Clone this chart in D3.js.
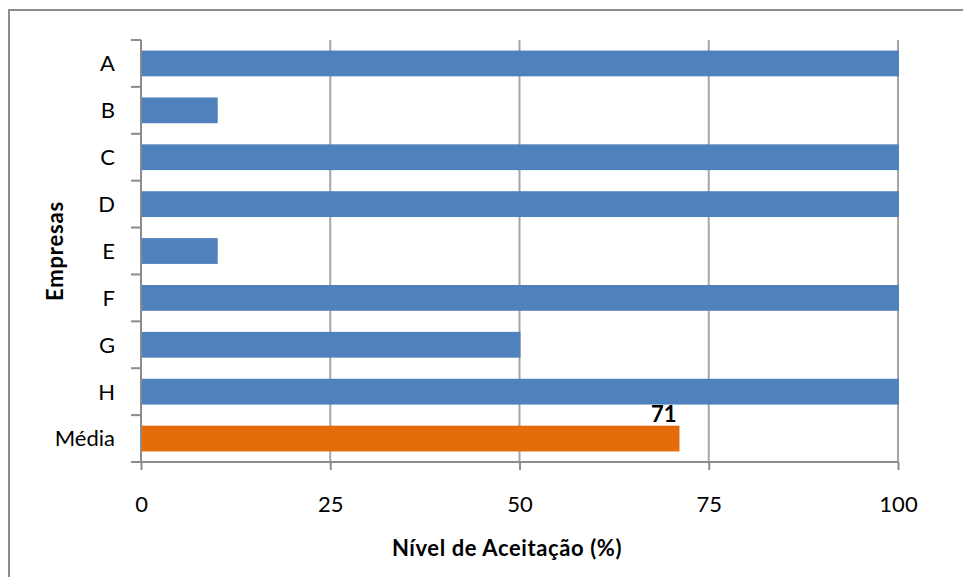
<!DOCTYPE html>
<html>
<head>
<meta charset="utf-8">
<script src="https://cdn.jsdelivr.net/npm/d3@7"></script>
<style>
  body { margin: 0; background: #fff; }
  svg { display: block; font-family: Lato, "Open Sans", sans-serif; }
  .grid line { stroke: #a6a6a6; stroke-width: 2; }
  .axis path, .axis line { stroke: #8c8c8c; stroke-width: 2; }
</style>
</head>
<body>
<script>
// data
const empresas = ["A", "B", "C", "D", "E", "F", "G", "H", "Média"]
const aceitacao = [100, 10, 100, 100, 10, 100, 50, 100, 71]
const xTicks = [0, 25, 50, 75, 100]
const labelIdx = 8  // only the average gets a value label

const W = 963, H = 577
const plotL = 141, plotR = 898, plotT = 40, plotB = 462

const svg = d3.select("body").append("svg")
  .attr("width", W)
  .attr("height", H)

// outer chart border
svg.append("rect")
  .attr("x", 9).attr("y", 10)
  .attr("width", W + 20).attr("height", H + 20)
  .attr("fill", "none")
  .attr("stroke", "#8c8c8c")
  .attr("stroke-width", 2)

const x = d3.scaleLinear().domain([0, 100]).range([plotL, plotR])
const y = d3.scaleBand().domain(empresas).range([plotT, plotB])
  .paddingInner(0.45).paddingOuter(0.225)

// vertical gridlines
svg.append("g").attr("class", "grid")
  .selectAll("line")
  .data(xTicks.filter(t => t > 0))
  .enter().append("line")
  .attr("x1", d => x(d)).attr("x2", d => x(d))
  .attr("y1", plotT).attr("y2", plotB)

// bars
svg.append("g")
  .selectAll("rect")
  .data(empresas)
  .enter().append("rect")
  .attr("x", x(0))
  .attr("y", d => y(d))
  .attr("width", (d, i) => x(aceitacao[i]) - x(0) + 1)
  .attr("height", y.bandwidth())
  .attr("fill", (d, i) => i === labelIdx ? "#e46c0a" : "#4f81bd")

// x axis
const xAxis = d3.axisBottom(x)
  .tickValues(xTicks)
  .tickSize(8)
  .tickPadding(26)

const gx = svg.append("g")
  .attr("class", "axis")
  .attr("transform", `translate(0,${plotB})`)
  .call(xAxis)
gx.select(".domain").attr("d", `M${plotL},0H${plotR}`)
gx.selectAll("text")
  .attr("font-family", "Lato, sans-serif")
  .attr("font-size", 22)
  .attr("fill", "#000")

// y axis (ticks on category boundaries)
const step = y.step()
const gy = svg.append("g").attr("class", "axis")
gy.append("line")
  .attr("x1", plotL).attr("x2", plotL)
  .attr("y1", plotT).attr("y2", plotB)
gy.selectAll(".tk")
  .data(d3.range(empresas.length + 1))
  .enter().append("line")
  .attr("class", "tk")
  .attr("x1", plotL - 10).attr("x2", plotL)
  .attr("y1", i => plotT + i * step).attr("y2", i => plotT + i * step)

svg.append("g")
  .selectAll("text")
  .data(empresas)
  .enter().append("text")
  .attr("x", 115)
  .attr("y", d => y(d) + y.bandwidth() / 2)
  .attr("dy", "0.36em")
  .attr("text-anchor", "end")
  .attr("font-size", 22)
  .text(d => d)

// value label on the average bar
svg.append("text")
  .attr("x", x(aceitacao[labelIdx]) - 2)
  .attr("y", y(empresas[labelIdx]) - 4)
  .attr("text-anchor", "end")
  .attr("font-size", 22)
  .attr("font-weight", "bold")
  .text(aceitacao[labelIdx])

// axis titles
svg.append("text")
  .attr("x", 507)
  .attr("y", 556)
  .attr("text-anchor", "middle")
  .attr("font-size", 22)
  .attr("letter-spacing", 0.6)
  .attr("font-weight", "bold")
  .text("Nível de Aceitação (%)")

svg.append("text")
  .attr("transform", `translate(63,251) rotate(-90)`)
  .attr("text-anchor", "middle")
  .attr("font-size", 22)
  .attr("letter-spacing", 0.8)
  .attr("font-weight", "bold")
  .text("Empresas")
</script>
</body>
</html>
